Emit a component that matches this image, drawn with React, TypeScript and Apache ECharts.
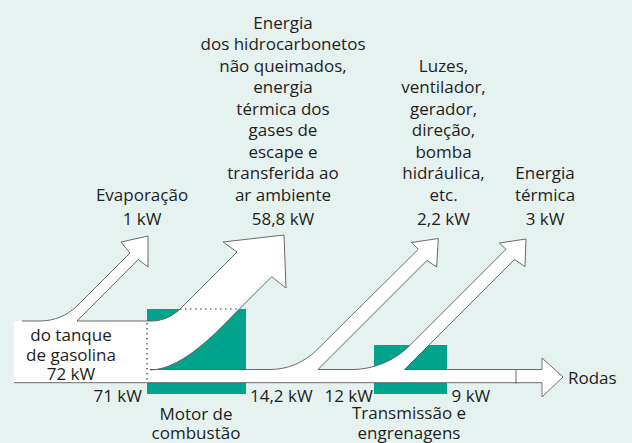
import React, { useEffect, useRef } from "react";
import * as echarts from "echarts";

// ---- data ----
const sourceName = ["do tanque", "de gasolina"];
const sourceValue = 72;
const stageNames = ["Motor de\ncombustão", "Transmissão e\nengrenagens"];
const stageInputs = [71, 12];
const stageOutputs = [14.2, 9];
const lossNames = [
  "Evaporação",
  "Energia\ndos hidrocarbonetos\nnão queimados,\nenergia\ntérmica dos\ngases de\nescape e\ntransferida ao\nar ambiente",
  "Luzes,\nventilador,\ngerador,\ndireção,\nbomba\nhidráulica,\netc.",
  "Energia\ntérmica",
];
const lossValues = [1, 58.8, 2.2, 3];
const sinkName = "Rodas";

const fmt = (v: number) => String(v).replace(".", ",") + " kW";

const W = 632;
const H = 443;
const BG = "#e6f2ef";
const TEAL = "#00a38b";
const LINE = "#5a5a5a";
const TXT = "#1e1e1e";
const FONT = "'Open Sans', sans-serif";
const FS = 17;

export default function App() {
  const ref = useRef<HTMLDivElement>(null);
  useEffect(() => {
    if (!ref.current) return;
    const chart = echarts.init(ref.current, null, { renderer: "svg" });
    const BT = 369.5;
    const BB = 382.7;

    const renderItem = (_params: any, api: any) => {
      const path = (cmds: any[][]) =>
        cmds
          .map(([op, ...n]) => {
            let s = op;
            for (let i = 0; i < n.length; i += 2) {
              const q = api.coord([n[i], n[i + 1]]);
              s += " " + q[0].toFixed(2) + " " + q[1].toFixed(2);
            }
            return s;
          })
          .join(" ");
      const rect = (x0: number, y0: number, x1: number, y1: number, fill: string) => ({
        type: "path",
        shape: { pathData: path([["M", x0, y0], ["L", x1, y0], ["L", x1, y1], ["L", x0, y1], ["Z"]]) },
        style: { fill, stroke: null },
      });
      const fillPath = (cmds: any[][]) => ({
        type: "path",
        shape: { pathData: path(cmds) },
        style: { fill: "#ffffff", stroke: null },
      });
      const strokePath = (cmds: any[][], extra: any = {}) => ({
        type: "path",
        shape: { pathData: path(cmds) },
        style: { fill: null, stroke: LINE, lineWidth: 0.9, ...extra },
      });
      const text = (t: string, x: number, y: number, align: string, vAlign: string, lh: number) => {
        const q = api.coord([x, y]);
        return {
          type: "text",
          x: q[0],
          y: q[1],
          style: {
            text: t,
            fill: TXT,
            fontSize: FS,
            fontFamily: FONT,
            align,
            verticalAlign: vAlign,
            lineHeight: lh,
          },
        };
      };

      const children: any[] = [];
      // teal boxes
      children.push(rect(147, 309, 246, 394, TEAL));
      children.push(rect(374, 345, 447, 394, TEAL));

      // white fills
      children.push(rect(14, 321, 148, BB, "#ffffff"));
      children.push(rect(146, BT, 542, BB, "#ffffff"));
      // evaporation arrow
      children.push(
        fillPath([
          ["M", 22, 321], ["L", 40, 321], ["C", 54.1, 321, 67.5, 315.5, 77.5, 305.5],
          ["L", 130, 253], ["L", 121, 242], ["L", 148, 236], ["L", 148, 267],
          ["L", 138.3, 259.5], ["L", 77, 321], ["L", 77, 324], ["L", 22, 324], ["Z"],
        ])
      );
      // engine loss arrow
      children.push(
        fillPath([
          ["M", 146, 321], ["L", 151, 321], ["C", 161.9, 321, 172.3, 316.7, 180, 309],
          ["L", 237, 252], ["L", 223, 242], ["L", 284, 235], ["L", 286, 288],
          ["L", 271.7, 276.7], ["L", 240, 308.3], ["C", 225, 323, 185, 370, 150, 370],
          ["L", 150, 375], ["L", 146, 375], ["Z"],
        ])
      );
      // accessories arrow
      children.push(
        fillPath([
          ["M", 270, BT], ["C", 287.6, BT, 304.3, 362.4, 316.7, 350],
          ["L", 418.3, 249.3], ["L", 411.7, 242.5], ["L", 438.3, 238.5], ["L", 436.7, 267],
          ["L", 427, 260.5], ["L", 318, BT], ["L", 318, 375], ["L", 270, 375], ["Z"],
        ])
      );
      // thermal arrow
      children.push(
        fillPath([
          ["M", 352, BT], ["C", 373.7, BT, 394.7, 360.6, 410, 345.3],
          ["L", 506, 249.3], ["L", 499.3, 243], ["L", 526, 239], ["L", 525, 266.7],
          ["L", 514.5, 259.5], ["L", 404.5, BT], ["L", 404.5, 375], ["L", 352, 375], ["Z"],
        ])
      );
      // wheels arrow head
      children.push(fillPath([["M", 541, BT], ["L", 542, 358], ["L", 563, 377], ["L", 542, 397], ["L", 541, BB], ["Z"]]));

      // outlines
      children.push(
        strokePath([
          ["M", 22, 321], ["L", 40, 321], ["C", 54.1, 321, 67.5, 315.5, 77.5, 305.5],
          ["L", 130, 253], ["L", 121, 242], ["L", 148, 236], ["L", 148, 267],
          ["L", 138.3, 259.5], ["L", 77, 321], ["L", 151, 321],
          ["C", 161.9, 321, 172.3, 316.7, 180, 309],
          ["L", 237, 252], ["L", 223, 242], ["L", 284, 235], ["L", 286, 288],
          ["L", 271.7, 276.7], ["L", 240, 308.3], ["C", 225, 323, 185, 370, 150, 370],
          ["M", 150, BT], ["L", 270, BT], ["C", 287.6, BT, 304.3, 362.4, 316.7, 350],
          ["L", 418.3, 249.3], ["L", 411.7, 242.5], ["L", 438.3, 238.5], ["L", 436.7, 267],
          ["L", 427, 260.5], ["L", 318, BT], ["L", 352, BT],
          ["C", 373.7, BT, 394.7, 360.6, 410, 345.3],
          ["L", 506, 249.3], ["L", 499.3, 243], ["L", 526, 239], ["L", 525, 266.7],
          ["L", 514.5, 259.5], ["L", 404.5, BT], ["L", 542, BT], ["L", 542, 358],
          ["L", 563, 377], ["L", 542, 397], ["L", 542, BB], ["L", 14, BB],
          ["M", 516, BT], ["L", 516, BB + 1],
        ])
      );
      // dotted guides
      children.push(strokePath([["M", 180, 309], ["L", 240, 309]], { lineDash: [1.5, 3.5], stroke: "#333", lineWidth: 1.2 }));
      children.push(strokePath([["M", 147, 323], ["L", 147, BB]], { lineDash: [1.5, 3.5], stroke: "#333", lineWidth: 1.2 }));

      // texts
      children.push(text(sourceName.join("\n") + "\n" + fmt(sourceValue), 71, 354, "center", "middle", 19.5));
      const lossX = [142, 283, 443.5, 545];
      lossNames.forEach((n, i) => {
        children.push(text(n, lossX[i], 204.75, "center", "bottom", 21.5));
        children.push(text(fmt(lossValues[i]), lossX[i], 218, "center", "middle", 21.5));
      });
      children.push(text(fmt(stageInputs[0]), 142, 395, "right", "middle", 20));
      children.push(text(fmt(stageOutputs[0]), 250, 395, "left", "middle", 20));
      children.push(text(fmt(stageInputs[1]), 373, 395, "right", "middle", 20));
      children.push(text(fmt(stageOutputs[1]), 451.5, 395, "left", "middle", 20));
      children.push(text(stageNames[0], 196, 423, "center", "middle", 19.5));
      children.push(text(stageNames[1], 409, 422.5, "center", "middle", 19.5));
      children.push(text(sinkName, 568, 377, "left", "middle", 20));

      return { type: "group", children };
    };

    chart.setOption({
      animation: false,
      backgroundColor: BG,
      grid: { left: 0, right: 0, top: 0, bottom: 0 },
      xAxis: { type: "value", min: 0, max: W, show: false },
      yAxis: { type: "value", min: 0, max: H, show: false, inverse: true },
      series: [
        {
          type: "custom",
          renderItem,
          data: [[0, 0]],
          silent: true,
        },
      ],
    });
    return () => chart.dispose();
  }, []);
  return <div ref={ref} style={{ position: "fixed", left: 0, top: 0, width: W, height: H }} />;
}
